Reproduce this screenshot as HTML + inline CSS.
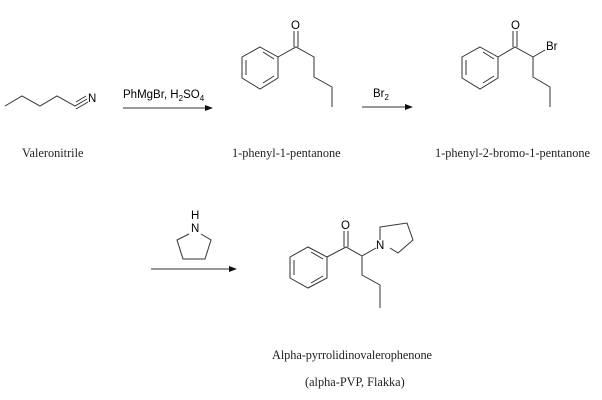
<!DOCTYPE html>
<html><head><style>
html,body{margin:0;padding:0;background:#fff;}
svg{display:block;}
.s{font-family:"Liberation Sans",sans-serif;font-size:11.5px;fill:#000;}
.r{font-family:"Liberation Serif",serif;font-size:12.3px;fill:#222;}
</style></head><body>
<svg width="602" height="400" viewBox="0 0 602 400" xmlns="http://www.w3.org/2000/svg">
<g stroke="#333" stroke-width="1" fill="none">
<polyline points="5,106 22,96 40,106 57,96 75,106 87,99"/>
<line x1="76" y1="102" x2="86" y2="96"/>
<line x1="76" y1="109" x2="88" y2="102"/>
<line x1="123" y1="108" x2="205" y2="108"/>
<polygon points="260,47 278,57 278,78 260,89 242,78 242,57"/>
<line x1="263" y1="52" x2="274" y2="59"/>
<line x1="274" y1="76" x2="263" y2="83"/>
<line x1="246" y1="60" x2="246" y2="75"/>
<polyline points="278,57 296,47 314,57 314,77 332,87 332,107"/>
<line x1="294" y1="47" x2="294" y2="31"/>
<line x1="298" y1="47" x2="298" y2="31"/>
<line x1="362" y1="107" x2="405" y2="107"/>
<polygon points="480,47 498,57 498,78 480,89 462,78 462,57"/>
<line x1="483" y1="52" x2="494" y2="59"/>
<line x1="494" y1="76" x2="483" y2="83"/>
<line x1="466" y1="60" x2="466" y2="75"/>
<polyline points="498,57 515,47 533,57 533,77 550,87 550,107"/>
<line x1="533" y1="57" x2="545" y2="50"/>
<line x1="513" y1="47" x2="513" y2="31"/>
<line x1="517" y1="47" x2="517" y2="31"/>
<polyline points="189,234 177,240 183,259 205,259 211,240 201,234"/>
<line x1="151" y1="269" x2="229" y2="269"/>
<polygon points="308,247 327,257 327,278 308,288 290,278 290,257"/>
<line x1="311" y1="252" x2="323" y2="259"/>
<line x1="323" y1="276" x2="311" y2="283"/>
<line x1="294" y1="260" x2="294" y2="275"/>
<polyline points="327,257 346,247 362,256 362,275 380,285 380,308"/>
<line x1="362" y1="256" x2="376" y2="248"/>
<line x1="344" y1="247" x2="344" y2="231"/>
<line x1="348" y1="247" x2="348" y2="231"/>
<polyline points="380,240 380,227 407,223 413,240 398,253 390,248"/>
</g>
<g fill="#111">
<polygon points="205,105 213,108 205,111"/>
<polygon points="405,104 413,107 405,110"/>
<polygon points="229,266 237,269 229,272"/>
</g>
<text class="s" x="88" y="102">N</text>
<text class="s" x="123" y="98">PhMgBr, H<tspan font-size="8" dy="3">2</tspan><tspan dy="-3">SO</tspan><tspan font-size="8" dy="3">4</tspan></text>
<text class="s" x="291" y="29">O</text>
<text class="s" x="373" y="97">Br<tspan font-size="8" dy="3">2</tspan></text>
<text class="s" x="511" y="29">O</text>
<text class="s" x="546" y="50">Br</text>
<text class="s" x="191" y="219">H</text>
<text class="s" x="191" y="232">N</text>
<text class="s" x="341" y="229">O</text>
<text class="s" x="376" y="249">N</text>
<text class="r" x="22" y="157">Valeronitrile</text>
<text class="r" x="232" y="157">1-phenyl-1-pentanone</text>
<text class="r" x="435" y="157" textLength="155">1-phenyl-2-bromo-1-pentanone</text>
<text class="r" x="272" y="359" textLength="160">Alpha-pyrrolidinovalerophenone</text>
<text class="r" x="305" y="386">(alpha-PVP, Flakka)</text>
</svg>
</body></html>
